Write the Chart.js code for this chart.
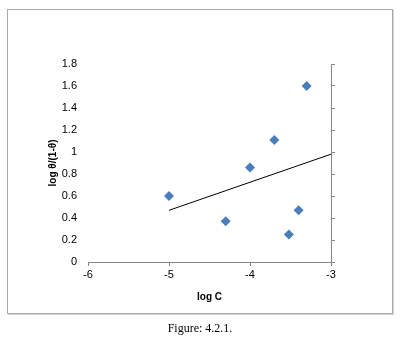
<!DOCTYPE html>
<html>
<head>
<meta charset="utf-8">
<script src="https://cdn.jsdelivr.net/npm/chart.js@4.4.0/dist/chart.umd.min.js"></script>
<style>
  body { margin: 0; background: #fff; }
  #frame { position: absolute; left: 7px; top: 9px; width: 384px; height: 303px;
           border: 1px solid #a9a9a9; box-shadow: 1px 1px 0 #d4d4d4; }
  #chart { position: absolute; left: 0; top: 0; }
  #caption { position: absolute; left: 0; width: 400px; top: 321px; text-align: center;
             font-family: "Liberation Serif", serif; font-size: 12px; color: #000; }
</style>
</head>
<body>
<div id="frame"></div>
<canvas id="chart" width="417" height="340"></canvas>
<div id="caption">Figure: 4.2.1.</div>
<script>
// measured points
var logC = [-5.0, -4.3, -4.0, -3.7, -3.52, -3.4, -3.3];
var logTheta = [0.60, 0.37, 0.86, 1.11, 0.25, 0.47, 1.60];

// linear trend line end points
var trendC = [-5, -3];
var trendTheta = [0.47, 0.98];

var xTitle = 'log C';
var yTitle = 'log θ/(1-θ)';

var axisGrey = '#868686';
var tickFont = { family: 'Liberation Sans', size: 11 };
var titleFont = { family: 'Liberation Sans', size: 10, weight: 'bold' };

var points = [];
for (var i in logC) {
	points.push({ x: logC[i], y: logTheta[i] });
}
var trend = [];
for (var j in trendC) {
	trend.push({ x: trendC[j], y: trendTheta[j] });
}

var ctx = document.getElementById('chart').getContext('2d');
var chart = new Chart(ctx, {
	type: 'scatter',
	data: {
		datasets: [
			{
				data: points,
				pointStyle: 'rectRot',
				pointRadius: 5,
				pointHoverRadius: 5,
				backgroundColor: '#4a7ebb',
				borderColor: '#4a7ebb',
				borderWidth: 0
			},
			{
				data: trend,
				showLine: true,
				pointRadius: 0,
				borderColor: '#000',
				borderWidth: 1
			}
		]
	},
	options: {
		responsive: false,
		animation: false,
		layout: { padding: { left: 47, top: 64, right: 76, bottom: 33 } },
		plugins: { legend: { display: false }, tooltip: { enabled: false } },
		scales: {
			x: {
				type: 'linear',
				min: -6, max: -3,
				ticks: { stepSize: 1, color: '#000', font: tickFont, padding: 2 },
				grid: { drawOnChartArea: false, drawTicks: true, tickLength: 4, color: axisGrey },
				border: { color: axisGrey },
				title: { display: true, text: xTitle, color: '#000', font: titleFont, padding: { top: 6 } },
				afterFit: function (s) { s.height = 45; }
			},
			y: {
				position: 'left',
				min: 0, max: 1.8,
				ticks: {
					stepSize: 0.2, color: '#000', font: tickFont, padding: 11,
					callback: function (v) { return String(Math.round(v * 10) / 10); }
				},
				grid: { display: false, drawTicks: false },
				border: { display: false },
				title: { display: true, text: yTitle, color: '#000', font: titleFont, padding: 0 },
				afterFit: function (s) { s.width = 41; }
			},
			y2: {
				position: 'right',
				min: 0, max: 1.8,
				ticks: { stepSize: 0.2, display: false },
				grid: { drawOnChartArea: false, drawTicks: true, tickLength: 4, color: axisGrey },
				border: { color: axisGrey },
				afterFit: function (s) { s.width = 10; }
			}
		}
	}
});
</script>
</body>
</html>
